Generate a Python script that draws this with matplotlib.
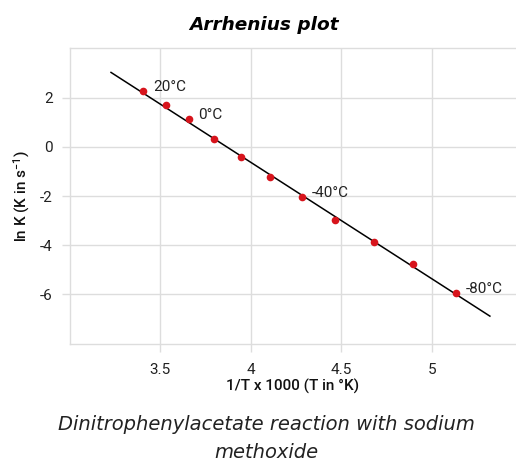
import matplotlib
matplotlib.use("Agg")
import matplotlib.pyplot as plt

plt.rcParams["mathtext.fontset"] = "custom"
plt.rcParams["mathtext.rm"] = "Roboto"
plt.rcParams["mathtext.it"] = "Roboto:italic"
plt.rcParams["mathtext.bf"] = "Roboto:bold"

# Data
inv_T = [3.407, 3.534, 3.657, 3.799, 3.946, 4.106, 4.281, 4.466, 4.681, 4.896, 5.134]
ln_k = [2.25, 1.69, 1.13, 0.31, -0.41, -1.23, -2.03, -2.96, -3.87, -4.76, -5.93]
fit_x = [3.229, 5.319]
fit_y = [3.02, -6.88]
annot_text = ["20°C", "0°C", "-40°C", "-80°C"]
annot_idx = [0, 2, 6, 10]
x_ticks = [3.5, 4, 4.5, 5]
x_ticklabels = ["3.5", "4", "4.5", "5"]
y_ticks = [-6, -4, -2, 0, 2]
y_ticklabels = ["-6", "-4", "-2", "0", "2"]

W, H = 516, 463
fig = plt.figure(figsize=(W / 100, H / 100), dpi=100)
left, right = 69.5 / W, 1.0
bottom, top = 1 - 343.7 / H, 1 - 48.3 / H
ax = fig.add_axes([left, bottom, right - left, top - bottom])

grid_c = "#dddddd"
ax.set_xlim(3.0, 5.463)
ax.set_ylim(-8, 4)
for v in x_ticks:
    ax.axvline(v, color=grid_c, lw=1.0, zorder=0)
for v in y_ticks:
    ax.axhline(v, color=grid_c, lw=1.0, zorder=0)
for s in ["left", "top", "bottom"]:
    ax.spines[s].set_color(grid_c)
    ax.spines[s].set_linewidth(1.0)
ax.spines["right"].set_visible(False)

ax.set_xticks(x_ticks)
ax.set_xticklabels(x_ticklabels)
ax.set_yticks(y_ticks)
ax.set_yticklabels(y_ticklabels)
ax.tick_params(axis="both", color=grid_c, length=6, width=1.0, labelcolor="#222222",
               labelsize=11)
ax.tick_params(axis="x", pad=8)
ax.tick_params(axis="y", pad=6)
for lab in ax.get_xticklabels() + ax.get_yticklabels():
    lab.set_family("Roboto")

ax.plot(fit_x, fit_y, color="black", lw=1.1, zorder=2)
ax.plot(inv_T, ln_k, "o", color="#d7141c", markersize=5.5, zorder=3, markeredgewidth=0)

for t, i in zip(annot_text, annot_idx):
    ax.annotate(t, (inv_T[i], ln_k[i]), xytext=(7, 3), textcoords="offset points",
                fontsize=11, family="Roboto", color="#222222", va="center", ha="left")

ax.set_xlabel("1/T x 1000 (T in °K)", fontsize=11, family="Roboto", fontweight="medium",
              color="#111111", labelpad=1)
ax.set_ylabel("ln K (K in s$^{\\mathregular{-1}}$)", fontsize=11, family="Roboto",
              fontweight="medium", color="#111111", labelpad=6)

fig.text(264.5 / W, 1 - 25 / H, "Arrhenius plot", ha="center", va="center",
         fontsize=13.3, family="DejaVu Sans", fontweight="bold", style="oblique", color="black")
fig.text(266 / W, 1 - 425 / H, "Dinitrophenylacetate reaction with sodium", ha="center",
         va="center", fontsize=14, family="DejaVu Sans", style="oblique",
         color="#222222")
fig.text(266 / W, 1 - 453 / H, "methoxide", ha="center",
         va="center", fontsize=14, family="DejaVu Sans", style="oblique",
         color="#222222")

fig.savefig("out.png", dpi=100)
